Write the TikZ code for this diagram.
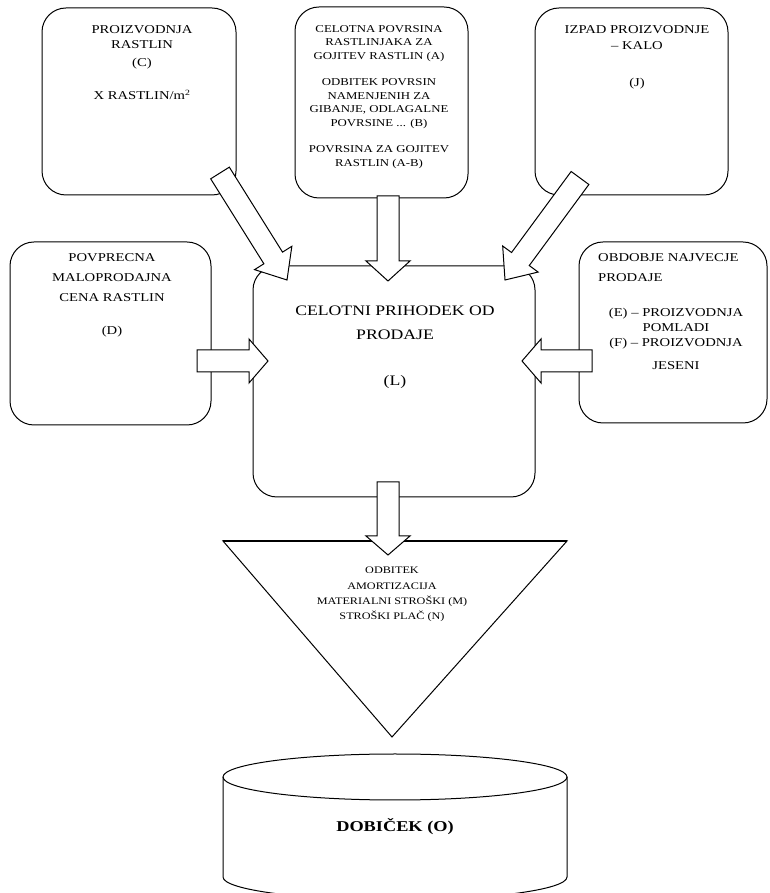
\documentclass[tikz,border=0pt]{standalone}
\usepackage{fontspec}
\setmainfont{Liberation Serif}[FakeStretch=1.22]
\usetikzlibrary{calc}
\tikzset{
  rbox/.style={draw, line width=1pt, rounded corners=24pt, fill=white, inner sep=0pt},
  blk/.style={draw, line width=1pt, fill=white, line join=miter},
  txt/.style={align=center, inner sep=0pt},
  shp/.style={draw, line width=1pt},
}
\newcommand{\blockarrow}[3]{%
  \coordinate (ba-h) at ($(#2)!#3!(#1)$);
  \draw[blk] ($(#1)!11pt!90:(#2)$) -- ($(ba-h)!11pt!90:(#2)$) -- ($(ba-h)!22pt!90:(#2)$) -- (#2)
     -- ($(ba-h)!22pt!-90:(#2)$) -- ($(ba-h)!11pt!-90:(#2)$) -- ($(#1)!11pt!-90:(#2)$) -- cycle;
}
\begin{document}
\begin{tikzpicture}[x=1pt,y=1pt]
\clip (0,0) rectangle (769,893);
\fill[white] (0,0) rectangle (769,893);

% boxes
\node[rbox, minimum width=194pt, minimum height=187pt] (C) at (139,791.5) {};
\node[rbox, minimum width=173pt, minimum height=191pt] (A) at (381.5,790.5) {};
\node[rbox, minimum width=193pt, minimum height=187pt] (J) at (631.5,791.5) {};
\node[rbox, minimum width=201pt, minimum height=183pt] (D) at (110.5,559.5) {};
\node[rbox, minimum width=282pt, minimum height=231pt] (L) at (394,511.5) {};
\node[rbox, minimum width=188pt, minimum height=181pt] (EF) at (673,560.5) {};

% texts
\node[txt, anchor=north, font=\fontsize{12}{15.5}\selectfont] (Ct) at (142,868)
  {PROIZVODNJA\\RASTLIN\\[2pt](C)\\[18pt]X RASTLIN/m\textsuperscript{2}};
\node[txt, anchor=north, font=\fontsize{10.5}{13.5}\selectfont] (At) at (379,868)
  {CELOTNA POVRSINA\\RASTLINJAKA ZA\\GOJITEV RASTLIN (A)\\[13pt]ODBITEK POVRSIN\\NAMENJENIH ZA\\GIBANJE, ODLAGALNE\\POVRSINE ... (B)\\[13pt]POVRSINA ZA GOJITEV\\RASTLIN (A-B)};
\node[txt, anchor=north, font=\fontsize{12}{16}\selectfont] (Jt) at (637,868)
  {IZPAD PROIZVODNJE\\– KALO\\[21pt](J)};
\node[txt, anchor=north, font=\fontsize{12}{20}\selectfont] (Dt) at (112,640)
  {POVPRECNA\\MALOPRODAJNA\\CENA RASTLIN\\[13pt](D)};
\node[txt, anchor=north west, align=left, font=\fontsize{12}{20}\selectfont] (EFa) at (598,640)
  {OBDOBJE NAJVECJE\\PRODAJE};
\node[txt, anchor=north, font=\fontsize{12}{15}\selectfont] (EFb) at (676,585)
  {(E) – PROIZVODNJA\\POMLADI\\(F) – PROIZVODNJA\\[8pt]JESENI};
\node[txt, anchor=north, font=\fontsize{14.5}{24}\selectfont] (Lt) at (395,587)
  {CELOTNI PRIHODEK OD\\PRODAJE\\[22pt](L)};

% triangle
\coordinate (tl) at (223,352);
\coordinate (tr) at (567,352);
\coordinate (tap) at (392,156);
\draw[shp] (tl) -- (tr) -- (tap) -- cycle;
\draw[line width=1.6pt] (tl) -- (tr);
\node[txt, anchor=north, font=\fontsize{10}{15.3}\selectfont] (T) at (392,326)
  {ODBITEK\\AMORTIZACIJA\\MATERIALNI STROŠKI (M)\\STROŠKI PLAČ (N)};

% cylinder
\coordinate (cyl) at (395,116);
\draw[shp, fill=white] (223,116) -- (223,16) arc[start angle=180, end angle=360, x radius=172, y radius=23] -- (567,116);
\draw[shp] (cyl) ellipse [x radius=172, y radius=23];
\node[txt, font=\bfseries\fontsize{15}{18}\selectfont] (O) at (395,66) {DOBIČEK (O)};

% block arrows
\coordinate (sC) at (220,720);  \coordinate (eC) at (287,613);
\coordinate (sA) at (388,697);  \coordinate (eA) at (388,612);
\coordinate (sJ) at (580,715);  \coordinate (eJ) at (505,613);
\coordinate (sD) at (197,532);  \coordinate (eD) at (268,532);
\coordinate (sE) at (592,532);  \coordinate (eE) at (522,532);
\coordinate (sL) at (388,411);  \coordinate (eL) at (388,338);
\blockarrow{sC}{eC}{26pt}
\blockarrow{sA}{eA}{20pt}
\blockarrow{sJ}{eJ}{26pt}
\blockarrow{sD}{eD}{19pt}
\blockarrow{sE}{eE}{19pt}
\blockarrow{sL}{eL}{19pt}
\end{tikzpicture}
\end{document}
